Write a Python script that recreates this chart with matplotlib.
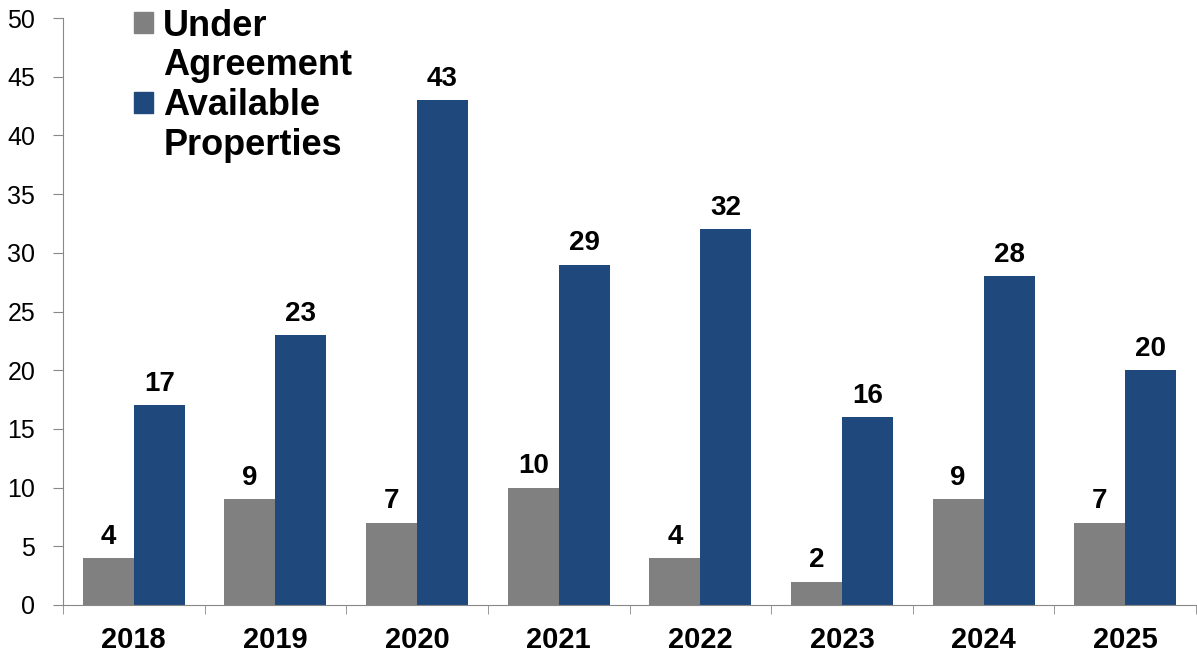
import matplotlib.pyplot as plt
from matplotlib.patches import Patch
import numpy as np

years = ['2018', '2019', '2020', '2021', '2022', '2023', '2024', '2025']
under_agreement = [4, 9, 7, 10, 4, 2, 9, 7]
available = [17, 23, 43, 29, 32, 16, 28, 20]

plt.rcParams['font.family'] = ['Liberation Sans', 'DejaVu Sans']

fig = plt.figure(figsize=(11.97, 6.6), dpi=100)
ax = fig.add_axes([63 / 1197, 55 / 660, 1133 / 1197, 587 / 660])

gray = '#808080'
blue = '#1f497d'
x = np.arange(len(years))
w = 0.36
b1 = ax.bar(x - w / 2, under_agreement, w, color=gray)
b2 = ax.bar(x + w / 2, available, w, color=blue)

# value labels on top of the bars
for bars in (b1, b2):
    for r in bars:
        ax.annotate(str(int(r.get_height())), (r.get_x() + r.get_width() / 2, r.get_height()),
                    xytext=(0, 6), textcoords='offset points', ha='center', va='bottom',
                    fontsize=20, fontweight='bold')

ax.set_xlim(-0.5, len(years) - 0.5)
ax.set_ylim(0, 50)
ax.set_yticks(np.arange(0, 51, 5))
ax.tick_params(axis='y', labelsize=18, length=7, color='#888888', pad=13)
ax.set_xticks(x)
ax.set_xticklabels(years, fontsize=21, fontweight='bold')
ax.set_xticks(np.arange(-0.5, len(years)), minor=True)
ax.tick_params(axis='x', which='major', length=0, pad=15)
ax.tick_params(axis='x', which='minor', length=6.5, color='#888888')

for s in ['top', 'right']:
    ax.spines[s].set_visible(False)
for s in ['left', 'bottom']:
    ax.spines[s].set_color('#888888')

# legend: one entry per text line so the swatch sits by the first line
handles = [Patch(color=gray), Patch(color='none'), Patch(color=blue), Patch(color='none')]
labels = ['Under', 'Agreement', 'Available', 'Properties']
ax.legend(handles, labels, loc='upper left', bbox_to_anchor=(0.0627, 1.016), frameon=False,
          prop={'size': 26, 'weight': 'bold'}, handlelength=0.53, handleheight=0.53,
          handletextpad=0.28, labelspacing=0.13, borderpad=0, borderaxespad=0)

fig.savefig('out.png')
